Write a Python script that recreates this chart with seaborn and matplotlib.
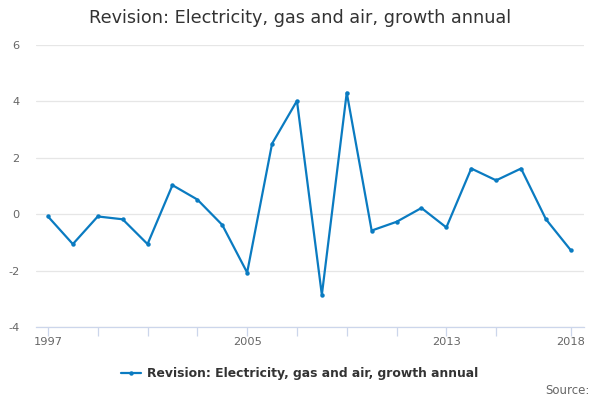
import matplotlib
matplotlib.use("Agg")
import matplotlib.pyplot as plt
import seaborn as sns
import pandas as pd

years = list(range(1997, 2019))
values = [-0.08, -1.06, -0.08, -0.18, -1.06, 1.03, 0.52, -0.38, -2.07, 2.5, 4.02,
          -2.86, 4.31, -0.58, -0.27, 0.22, -0.47, 1.62, 1.2, 1.62, -0.18, -1.28]
series_name = "Revision: Electricity, gas and air, growth annual"
tick_years = [1997, 1999, 2001, 2003, 2005, 2007, 2009, 2011, 2013, 2015, 2018]
label_years = [1997, 2005, 2013, 2018]

df = pd.DataFrame({"year": years, "value": values})

sns.set_style("white")
plt.rcParams["font.family"] = ["DejaVu Sans"]
plt.rcParams["axes.unicode_minus"] = False

fig = plt.figure(figsize=(6, 4), dpi=100)
ax = fig.add_axes([0.06, 0.1825, 0.913, 0.705])

line_color = "#0a7bc1"
sns.lineplot(data=df, x="year", y="value", ax=ax, color=line_color, linewidth=1.6,
             marker="o", markersize=3.2, markeredgewidth=0, label=series_name)

ax.set_xlim(1996.52, 2018.52)
ax.set_ylim(-4, 6)
ax.set_yticks([-4, -2, 0, 2, 4, 6])
ax.grid(axis="y", color="#e6e6e6", linewidth=0.9)
ax.set_axisbelow(True)

ax.set_xticks(tick_years)
ax.set_xticklabels([str(y) if y in label_years else "" for y in tick_years])
ax.tick_params(axis="x", bottom=True, direction="out", colors="#ccd6eb", length=6.5,
               width=0.9, labelcolor="#666666", labelsize=8.2, pad=0.5)
ax.tick_params(axis="y", left=False, length=0, labelcolor="#666666", labelsize=8.2, pad=12)

for side in ["top", "right", "left"]:
    ax.spines[side].set_visible(False)
ax.spines["bottom"].set_color("#ccd6eb")
ax.spines["bottom"].set_linewidth(0.9)
ax.set_xlabel("")
ax.set_ylabel("")

fig.text(0.5, 0.955, series_name, ha="center", va="center", fontsize=12.7, color="#333333")

ax.legend(loc="center", bbox_to_anchor=(0.482, -0.166), bbox_transform=ax.transAxes,
          frameon=False, prop={"weight": "bold", "size": 8.9}, handlelength=1.6,
          handletextpad=0.5)
for t in ax.get_legend().get_texts():
    t.set_color("#333333")

fig.text(0.982, 0.025, "Source:", ha="right", va="center", fontsize=8.5, color="#666666")

fig.savefig("out.png", dpi=100)
